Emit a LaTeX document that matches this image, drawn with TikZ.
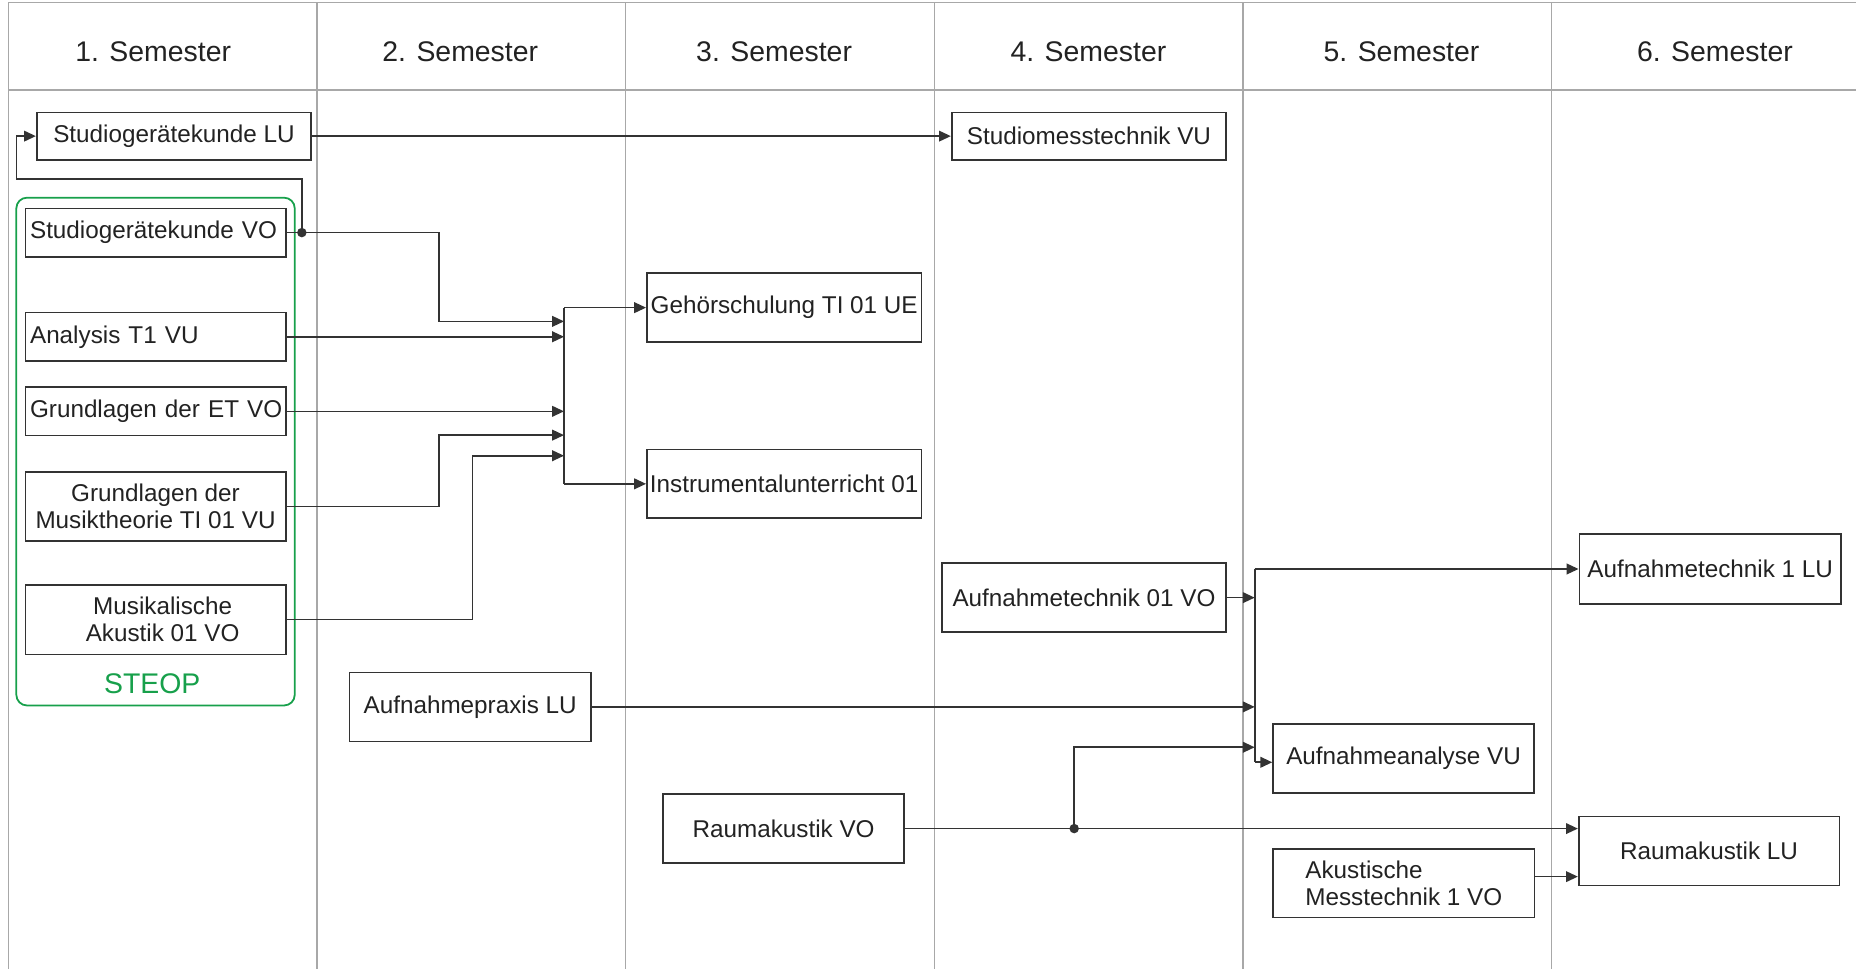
\documentclass[tikz,border=0pt]{standalone}
\usepackage{fontspec}
\setmainfont{Liberation Sans}
\usetikzlibrary{arrows.meta}
\definecolor{gridc}{HTML}{A8A8A8}
\definecolor{boxc}{HTML}{333333}
\definecolor{txtc}{HTML}{222222}
\definecolor{steop}{HTML}{17A04B}
\begin{document}
\begin{tikzpicture}[x=1pt,y=-1pt,
  laneline/.style={draw=gridc,line width=1.1pt},
  course/.style={draw=boxc,line width=1.4pt,inner sep=0pt,text=txtc,font=\fontsize{20.5}{23}\selectfont},
  lcourse/.style={course,text width=212pt,align=left},
  semhead/.style={text=txtc,font=\fontsize{24}{28}\selectfont,anchor=base,inner sep=0pt},
  wire/.style={draw=boxc,line width=1.4pt},
  conn/.style={wire,-{Triangle[length=10pt,width=9pt]}},
  junction/.style={fill=boxc}
]
\useasboundingbox (0,0) rectangle (1568,819);

% lanes
\draw[laneline] (7,2.3) -- (1568,2.3);
\draw[laneline] (7,76) -- (1568,76);
\foreach \xx in {7,267.8,528.6,789.4,1050.2,1311}{
  \draw[laneline] (\xx,2.3) -- (\xx,819);
}

% headers
\node[semhead] (h1) at (129.4,52.1) {1. Semester};
\node[semhead] (h2) at (388.8,52.1) {2. Semester};
\node[semhead] (h3) at (654,52.1) {3. Semester};
\node[semhead] (h4) at (919.5,52.1) {4. Semester};
\node[semhead] (h5) at (1184,52.1) {5. Semester};
\node[semhead] (h6) at (1448.8,52.1) {6. Semester};

% STEOP group
\node[draw=steop,line width=1.5pt,rounded corners=9pt,minimum width=235.2pt,minimum height=429pt,inner sep=0pt] (steopBox) at (131.4,381.5) {};
\node[text=steop,font=\fontsize{24}{28}\selectfont,inner sep=0pt] (steopLabel) at (128.6,578) {STEOP};

% courses
\node[course,minimum width=232pt,minimum height=40pt] (StudLU) at (147,115) {Studiogerätekunde LU};
\node[course,minimum width=232pt,minimum height=40pt] (StudMT) at (920,115) {Studiomesstechnik VU};
\node[lcourse,minimum width=220pt,minimum height=41pt] (StudVO) at (131.4,196.5) {\mbox{Studiogerätekunde VO}};
\node[lcourse,minimum width=220pt,minimum height=41pt] (Analysis) at (131.4,284.5) {\mbox{Analysis T1 VU}};
\node[lcourse,minimum width=220pt,minimum height=41pt] (GrundET) at (131.4,347.5) {\mbox{Grundlagen der ET VO}};
\node[course,align=center,minimum width=220pt,minimum height=58pt] (MusikT) at (131.4,428) {Grundlagen der\\Musiktheorie TI 01 VU};
\node[course,align=center,minimum width=220pt,minimum height=59pt] (MusAk) at (131.4,523.5) {\hspace*{12pt}Musikalische\\\hspace*{12pt}Akustik 01 VO};
\node[course,minimum width=232pt,minimum height=58pt] (Gehoer) at (662.5,259.9) {Gehörschulung TI 01 UE};
\node[course,minimum width=232pt,minimum height=58pt] (Instr) at (662.5,408.75) {Instrumentalunterricht 01};
\node[course,minimum width=240pt,minimum height=58.6pt] (AT01) at (915.8,504.9) {Aufnahmetechnik 01 VO};
\node[course,minimum width=203.7pt,minimum height=58.3pt] (APraxis) at (397.2,597.2) {Aufnahmepraxis LU};
\node[course,minimum width=203.3pt,minimum height=58.5pt] (RVO) at (662,700) {Raumakustik VO};
\node[course,minimum width=221pt,minimum height=58.6pt] (AT1LU) at (1444.8,480.7) {Aufnahmetechnik 1 LU};
\node[course,minimum width=220.5pt,minimum height=58pt] (AnaVU) at (1185.8,640.7) {Aufnahmeanalyse VU};
\node[course,minimum width=220.2pt,minimum height=58.2pt] (RLU) at (1443.8,719) {Raumakustik LU};
\node[course,align=left,minimum width=221pt,minimum height=58pt] (AMT) at (1186,746) {Akustische\\Messtechnik 1 VO};

% connectors, upper part
\draw[conn] (StudLU.east) -- (StudMT.west);
\coordinate (dotA) at (255,196.5);
\coordinate (loopR) at (255,151);
\coordinate (loopL) at (14,151);
\draw[wire] (StudVO.east) -- (dotA);
\draw[conn] (dotA) -- (loopR) -- (loopL) |- (StudLU.west);

\coordinate (busA1) at (476.5,259.9);
\coordinate (busA2) at (476.5,408.75);
\coordinate (bendA) at (371,271.5);
\coordinate (bendB) at (371,367.6);
\coordinate (bendC) at (399.3,385);
\draw[conn] (dotA) -| (bendA) -- (bendA -| busA1);
\draw[conn] (Analysis.east) -- (Analysis.east -| busA1);
\draw[conn] (GrundET.east) -- (GrundET.east -| busA1);
\draw[conn] (MusikT.east) -| (bendB) -- (bendB -| busA1);
\draw[conn] (MusAk.east) -| (bendC) -- (bendC -| busA1);
\draw[wire] (busA1) -- (busA2);
\draw[conn] (busA1) -- (Gehoer.west);
\draw[conn] (busA2) -- (Instr.west);
\fill[junction] (dotA) circle (4pt);

% connectors, lower part
\coordinate (busB1) at (1060,480.7);
\coordinate (anaIn) at ([yshift=-3.3pt]AnaVU.west);
\coordinate (busB2) at (anaIn -| busB1);
\draw[wire] (busB1) -- (busB2);
\draw[conn] (busB1) -- (AT1LU.west);
\draw[conn] (busB2) -- (anaIn);
\draw[conn] (AT01.east) -- (AT01.east -| busB1);
\draw[conn] (APraxis.east) -- (APraxis.east -| busB1);
\coordinate (dotB) at (907.5,700);
\coordinate (bendD) at (907.5,631.3);
\draw[conn] (RVO.east) -- (RVO.east -| RLU.west);
\draw[conn] (dotB) -- (bendD) -- (bendD -| busB1);
\fill[junction] (dotB) circle (4pt);
\coordinate (amOut) at ([yshift=5.4pt]AMT.east);
\draw[conn] (amOut) -- (amOut -| RLU.west);
\end{tikzpicture}
\end{document}
